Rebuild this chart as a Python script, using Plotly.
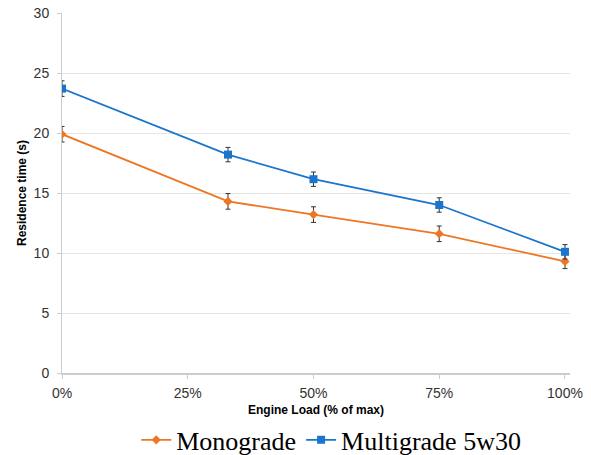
import plotly.graph_objects as go

load_pct = [0, 33, 50, 75, 100]
monograde = [19.9, 14.3, 13.2, 11.6, 9.3]
monograde_err = [0.65, 0.65, 0.65, 0.65, 0.6]
multigrade = [23.7, 18.2, 16.15, 14.0, 10.1]
multigrade_err = [0.65, 0.6, 0.6, 0.6, 0.6]
x_ticks = [0, 25, 50, 75, 100]
y_ticks = [0, 5, 10, 15, 20, 25, 30]

fig = go.Figure()
fig.add_trace(go.Scatter(
    x=load_pct, y=monograde, name="Monograde", mode="lines+markers",
    line=dict(color="#EE7623", width=1.8),
    marker=dict(symbol="diamond", size=7, color="#EE7623"),
    error_y=dict(type="data", array=monograde_err, color="#333333", thickness=1, width=2.5),
))
fig.add_trace(go.Scatter(
    x=load_pct, y=multigrade, name="Multigrade 5w30", mode="lines+markers",
    line=dict(color="#1B75CC", width=1.8),
    marker=dict(symbol="square", size=8, color="#1B75CC"),
    error_y=dict(type="data", array=multigrade_err, color="#333333", thickness=1, width=2.5),
))

fig.update_layout(
    width=591, height=455,
    margin=dict(l=62, r=21, t=13, b=82, autoexpand=False),
    paper_bgcolor="white", plot_bgcolor="white",
    font=dict(family="Liberation Sans, Arial, sans-serif", color="#333333"),
    legend=dict(orientation="h", x=0.53, xanchor="center", y=-0.186, yanchor="middle",
                font=dict(family="Liberation Serif, Times New Roman, serif", size=26, color="#000000"),
                itemwidth=30, tracegroupgap=0),
)
fig.update_xaxes(
    range=[0, 101], tickvals=x_ticks, ticktext=[f"{v}%" for v in x_ticks],
    showgrid=False, zeroline=False, automargin=False,
    showline=True, linecolor="#CCCCCC", linewidth=1.5,
    ticks="outside", ticklen=4, tickcolor="#CCCCCC",
    ticklabelstandoff=2,
    tickfont=dict(size=14, color="#333333"),
    title=dict(text="<b>Engine Load (% of max)</b>", font=dict(size=12, color="#000000"), standoff=6),
)
fig.update_yaxes(
    range=[0, 30], tickvals=y_ticks, automargin=False,
    showgrid=True, gridcolor="#E6E6E6", gridwidth=1, zeroline=False,
    showline=True, linecolor="#CCCCCC", linewidth=1,
    ticks="outside", ticklen=4, tickcolor="#CCCCCC",
    ticklabelstandoff=5,
    tickfont=dict(size=14, color="#333333"),
    title=dict(text="<b>Residence time (s)</b>", font=dict(size=12, color="#000000"), standoff=4),
)

fig.write_html(
    "out.html",
    config={"displayModeBar": False},
    post_script="document.body.style.margin='0';document.body.style.overflow='hidden';",
)
